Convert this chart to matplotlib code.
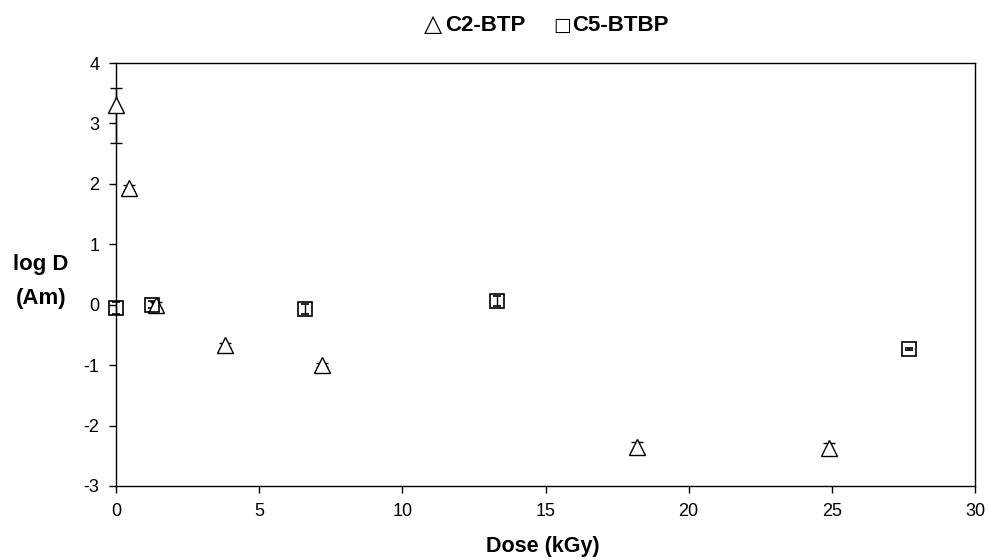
import matplotlib
matplotlib.use("Agg")
import matplotlib.pyplot as plt

plt.rcParams['font.family'] = ['Liberation Sans', 'DejaVu Sans']
plt.rcParams['axes.unicode_minus'] = False

# C2-BTP (triangles)
c2_dose = [0.0, 0.45, 1.4, 3.8, 7.2, 18.2, 24.9]
c2_logd = [3.3, 1.93, 0.0, -0.67, -1.0, -2.35, -2.37]
c2_err_lo = [0.62, 0.05, 0.05, 0.04, 0.03, 0.08, 0.08]
c2_err_hi = [0.28, 0.05, 0.05, 0.04, 0.03, 0.08, 0.08]

# C5-BTBP (squares)
c5_dose = [0.0, 1.25, 6.6, 13.3, 27.7]
c5_logd = [-0.05, 0.0, -0.07, 0.06, -0.73]
c5_err = [0.1, 0.06, 0.09, 0.08, 0.02]

x_ticks = [0, 5, 10, 15, 20, 25, 30]
y_ticks = [-3, -2, -1, 0, 1, 2, 3, 4]

fig = plt.figure(figsize=(9.9, 5.6), dpi=100)
ax = fig.add_axes([116/990, 1-486/560, (975-116)/990, (486-63)/560])

ax.errorbar(c2_dose, c2_logd, yerr=[c2_err_lo, c2_err_hi], fmt='^', ms=12,
            mfc='white', mec='black', mew=1.0, ecolor='black', elinewidth=1.0,
            capsize=4, capthick=1.0, zorder=3, clip_on=False)
ax.errorbar(c5_dose, c5_logd, yerr=c5_err, fmt='s', ms=10,
            mfc='none', mec='black', mew=1.2, ecolor='black', elinewidth=1.0,
            capsize=3, capthick=1.0, zorder=3, clip_on=False)

ax.set_xlim(0, 30)
ax.set_ylim(-3, 4)
ax.set_xticks(x_ticks)
ax.set_yticks(y_ticks)
ax.tick_params(direction='out', length=5, width=1, labelsize=13)
ax.tick_params(axis='x', pad=7)
ax.tick_params(axis='y', pad=7)
for s in ax.spines.values():
    s.set_linewidth(1.0)

fig.text(543/990, 1-552/560, 'Dose (kGy)', fontsize=15.5, fontweight='bold',
         ha='center', va='baseline')
fig.text(41/990, 1-270/560, 'log D', fontsize=16, fontweight='bold',
         ha='center', va='baseline')
fig.text(41/990, 1-304/560, '(Am)', fontsize=16, fontweight='bold',
         ha='center', va='baseline')

# legend-like header
base = 1-31/560
fig.text(432.5/990, base, '\u25b3', fontsize=17, ha='center', va='baseline',
         family=['DejaVu Sans'])
fig.text(445/990, base, 'C2-BTP', fontsize=16, fontweight='bold', ha='left', va='baseline')
fig.text(562.5/990, base, '\u25a1', fontsize=13.5, ha='center', va='baseline',
         family=['DejaVu Sans'])
fig.text(572/990, base, 'C5-BTBP', fontsize=16, fontweight='bold', ha='left', va='baseline')

fig.savefig('out.png', dpi=100)
